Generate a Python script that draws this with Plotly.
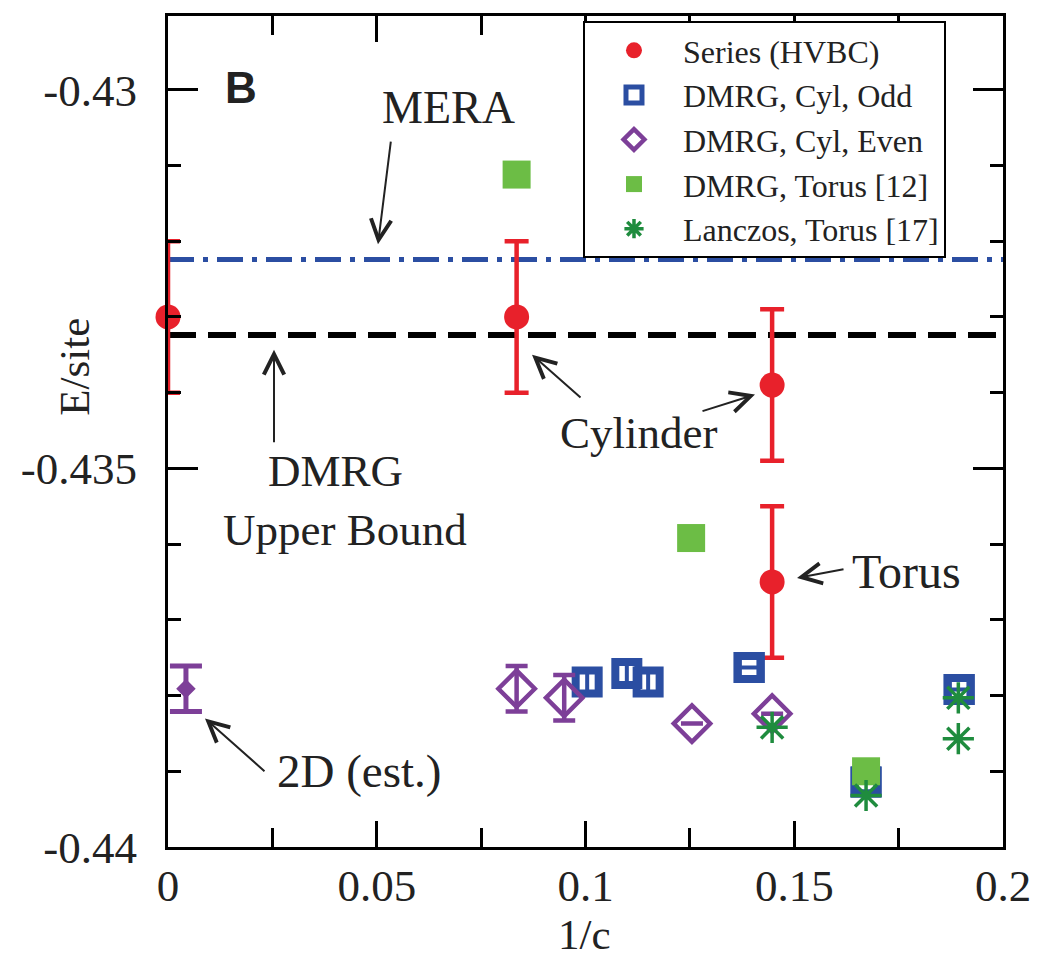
import plotly.graph_objects as go

# ---------------- data ----------------
# Series (HVBC) with error bars
hvbc_x = [0.0, 0.0835, 0.1447, 0.1447]
hvbc_y = [-0.4330, -0.4330, -0.4339, -0.4365]
hvbc_err = [0.001, 0.001, 0.001, 0.001]

# DMRG, Cyl, Odd
odd_x = [0.1004, 0.1099, 0.1150, 0.1392, 0.1672, 0.1895]
odd_y = [-0.43782, -0.43771, -0.43782, -0.43763, -0.43914, -0.43792]
odd_err = [0.00012, 0.00012, 0.00012, 0.0, 0.0, 0.0]

# DMRG, Cyl, Even
even_x = [0.0835, 0.0949, 0.1255, 0.1447]
even_y = [-0.43791, -0.43803, -0.43837, -0.43824]
even_err = [0.0003, 0.0003, 0.0, 0.0]

# 2D extrapolated estimate
est_x = [0.0043]
est_y = [-0.43791]
est_err = [0.0003]

# DMRG, Torus [12]
torus_x = [0.0835, 0.1253, 0.1672]
torus_y = [-0.43112, -0.43592, -0.43900]

# Lanczos, Torus [17]
lanc_x = [0.1447, 0.1672, 0.1893, 0.1893]
lanc_y = [-0.43842, -0.43932, -0.43803, -0.43857]

# reference energies (horizontal lines)
ref_x = [0.0, 0.2]
mera_e = -0.43224
dmrg_bound_e = -0.43324

x_tickvals = [0, 0.05, 0.1, 0.15, 0.2]
x_ticktext = ["0", "0.05", "0.1", "0.15", "0.2"]
y_tickvals = [-0.43, -0.435, -0.44]
y_ticktext = ["-0.43", "-0.435", "-0.44"]

# ---------------- styles ----------------
RED = "#e8212b"
BLUE = "#2b4ea2"
PURPLE = "#7d3f98"
LGREEN = "#6cbd45"
DGREEN = "#1f8c3e"
SERIF = "Liberation Serif"
INK = "#222"

fig = go.Figure()

# reference lines
fig.add_trace(go.Scatter(x=ref_x, y=[mera_e] * len(ref_x), mode="lines",
                         line=dict(color=BLUE, width=5, dash="26px,9px,5px,9px"),
                         showlegend=False, hoverinfo="skip"))
fig.add_trace(go.Scatter(x=ref_x, y=[dmrg_bound_e] * len(ref_x), mode="lines",
                         line=dict(color="black", width=6, dash="28px,12px"),
                         showlegend=False, hoverinfo="skip"))

# Series (HVBC)
fig.add_trace(go.Scatter(x=hvbc_x, y=hvbc_y, mode="markers", name="Series (HVBC)",
                         marker=dict(symbol="circle", size=25, color=RED),
                         error_y=dict(type="data", array=hvbc_err, color=RED,
                                      thickness=4.5, width=12),
                         cliponaxis=False))

# DMRG Cyl Odd
fig.add_trace(go.Scatter(x=odd_x, y=odd_y, mode="markers", name="DMRG, Cyl, Odd",
                         marker=dict(symbol="square-open", size=23, color=BLUE,
                                     line=dict(width=8, color=BLUE)),
                         error_y=dict(type="data", array=odd_err, color=BLUE,
                                      thickness=4, width=0)))
flat_idx = [i for i, e in enumerate(odd_err) if e == 0.0]
fig.add_trace(go.Scatter(x=[odd_x[i] for i in flat_idx], y=[odd_y[i] for i in flat_idx],
                         mode="markers", showlegend=False, hoverinfo="skip",
                         marker=dict(symbol="square-open", size=23, color=BLUE,
                                     line=dict(width=8, color=BLUE)),
                         error_y=dict(type="data", array=[odd_err[i] for i in flat_idx],
                                      color=BLUE, thickness=4, width=8)))

# DMRG Cyl Even
fig.add_trace(go.Scatter(x=even_x, y=even_y, mode="markers", name="DMRG, Cyl, Even",
                         marker=dict(symbol="diamond-open", size=28, color=PURPLE,
                                     line=dict(width=4.5, color=PURPLE)),
                         error_y=dict(type="data", array=even_err, color=PURPLE,
                                      thickness=4.5, width=11)))
fig.add_trace(go.Scatter(x=est_x, y=est_y, mode="markers", showlegend=False,
                         marker=dict(symbol="diamond", size=15, color=PURPLE),
                         error_y=dict(type="data", array=est_err, color=PURPLE,
                                      thickness=5, width=16)))

# DMRG Torus
fig.add_trace(go.Scatter(x=torus_x, y=torus_y, mode="markers", name="DMRG, Torus [12]",
                         marker=dict(symbol="square", size=28, color=LGREEN)))

# Lanczos Torus
fig.add_trace(go.Scatter(x=lanc_x, y=lanc_y, mode="markers", name="Lanczos, Torus [17]",
                         marker=dict(symbol="asterisk-open", size=26, color=DGREEN,
                                     line=dict(width=3.5, color=DGREEN))))

# ---------------- annotations ----------------
texts = [
    dict(text="<b>B</b>", x=0.0175, y=-0.42997, font=dict(family="Liberation Sans", size=44, color=INK)),
    dict(text="MERA", x=0.0672, y=-0.43024, font=dict(family=SERIF, size=46, color=INK)),
    dict(text="DMRG", x=0.0402, y=-0.43504, font=dict(family=SERIF, size=45, color=INK)),
    dict(text="Upper Bound", x=0.0424, y=-0.43581, font=dict(family=SERIF, size=45, color=INK)),
    dict(text="Cylinder", x=0.1126, y=-0.43453, font=dict(family=SERIF, size=45, color=INK)),
    dict(text="Torus", x=0.1770, y=-0.43636, font=dict(family=SERIF, size=48, color=INK)),
    dict(text="2D (est.)", x=0.04575, y=-0.43899, font=dict(family=SERIF, size=47, color=INK)),
]
for t in texts:
    fig.add_annotation(xref="x", yref="y", showarrow=False, xanchor="center",
                       yanchor="middle", **t)

arrows = [
    (0.05030, -0.432039, 13, -104),
    (0.02539, -0.433434, 0, 94),
    (0.08719, -0.433500, 50, 44),
    (0.14060, -0.434026, -54, 17),
    (0.15066, -0.436447, 48, -9),
    (0.00886, -0.438303, 61, 54),
]
for (hx, hy, dx, dy) in arrows:
    fig.add_annotation(x=hx, y=hy, xref="x", yref="y", ax=dx, ay=dy, text="",
                       showarrow=True, arrowhead=5, arrowsize=2, arrowwidth=2,
                       arrowcolor=INK, standoff=0, startstandoff=0)

# axis titles as text
fig.add_annotation(text="E/site", xref="paper", yref="paper", x=-0.1114, y=0.578,
                   textangle=-90, showarrow=False, xanchor="center", yanchor="middle",
                   font=dict(family=SERIF, size=43, color=INK))
fig.add_annotation(text="1/c", xref="paper", yref="paper", x=0.4994, y=-0.1055,
                   showarrow=False, xanchor="center", yanchor="middle",
                   font=dict(family=SERIF, size=43, color=INK))

# ---------------- layout ----------------
fig.update_layout(
    width=1038, height=960,
    margin=dict(l=160, r=43, t=5, b=121),
    paper_bgcolor="white", plot_bgcolor="white",
    font=dict(family=SERIF, color=INK),
    legend=dict(x=0.497, y=0.994, xanchor="left", yanchor="top",
                bgcolor="white", bordercolor="black", borderwidth=2,
                font=dict(family=SERIF, size=32, color=INK),
                itemwidth=88, tracegroupgap=0,
                entrywidth=300, entrywidthmode="pixels"),
    xaxis=dict(range=[0, 0.2], showgrid=False, zeroline=False,
               showline=True, linecolor="black", linewidth=3, mirror="ticks",
               ticks="inside", ticklen=26, tickwidth=3, tickcolor="black",
               tickvals=x_tickvals, ticktext=x_ticktext,
               tickfont=dict(family=SERIF, size=45, color=INK),
               ticklabelstandoff=-3,
               minor=dict(dtick=0.025, tick0=0, ticks="inside", ticklen=19,
                          tickwidth=3, tickcolor="black")),
    yaxis=dict(range=[-0.44, -0.429026], showgrid=False, zeroline=False,
               showline=True, linecolor="black", linewidth=3, mirror="ticks",
               ticks="inside", ticklen=30, tickwidth=3, tickcolor="black",
               tickvals=y_tickvals, ticktext=y_ticktext,
               tickfont=dict(family=SERIF, size=45, color=INK),
               ticklabelstandoff=19,
               minor=dict(dtick=0.001, tick0=-0.44, ticks="inside", ticklen=13,
                          tickwidth=3, tickcolor="black")),
)

fig.write_html("out.html")
